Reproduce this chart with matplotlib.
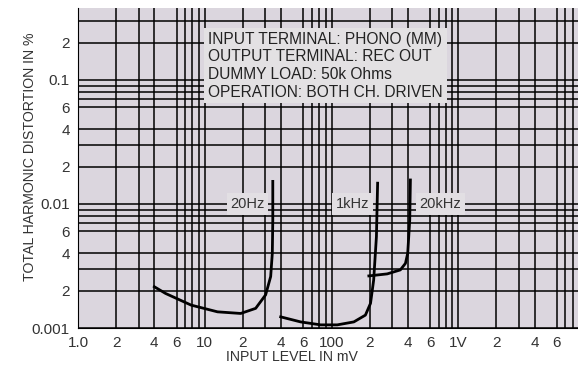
import matplotlib.pyplot as plt
from matplotlib.ticker import FixedLocator, NullFormatter

plt.rcParams['font.family'] = ['Liberation Sans', 'DejaVu Sans']

# THD curves (x in mV, y in %)
hz20_x = [4.0, 4.9, 7.8, 12.6, 19.2, 25.2, 30.2, 33.1, 34.1, 34.4, 34.4]
hz20_y = [0.00215, 0.0019, 0.00153, 0.00135, 0.00131, 0.00144, 0.00185, 0.0026, 0.004, 0.0074, 0.0152]

k1_x = [39.7, 57, 82, 111, 150, 185, 203, 215, 226, 231]
k1_y = [0.00123, 0.00112, 0.00106, 0.00106, 0.00112, 0.00127, 0.00158, 0.00244, 0.00545, 0.0147]

k20_x = [197, 275, 349, 383, 399, 414, 419]
k20_y = [0.00263, 0.00273, 0.00294, 0.00332, 0.0040, 0.00743, 0.0156]

curve_labels = ['20Hz', '1kHz', '20kHz']
label_x = [21.7, 146, 720]

x_ticks = [1, 2, 4, 6, 10, 20, 40, 60, 100, 200, 400, 600, 1000, 2000, 4000, 6000]
x_ticklabels = ['1.0', '2', '4', '6', '10', '2', '4', '6', '100', '2', '4', '6', '1V', '2', '4', '6']
x_minor = [3, 7, 8, 9, 30, 70, 80, 90, 300, 700, 800, 900, 3000, 7000, 8000]

y_ticks = [0.001, 0.002, 0.004, 0.006, 0.01, 0.02, 0.04, 0.06, 0.1, 0.2]
y_ticklabels = ['0.001', '2', '4', '6', '0.01', '2', '4', '6', '0.1', '2']
y_minor = [0.003, 0.007, 0.008, 0.009, 0.03, 0.07, 0.08, 0.09, 0.3]

info = ['INPUT TERMINAL: PHONO (MM)', 'OUTPUT TERMINAL: REC OUT',
        'DUMMY LOAD: 50k Ohms', 'OPERATION: BOTH CH. DRIVEN']

fig = plt.figure(figsize=(5.78, 3.70), dpi=100)
ax = fig.add_axes([0.135, 0.1135, 0.865, 0.865])
ax.set_facecolor('#dbd6de')

ax.set_xscale('log')
ax.set_yscale('log')
ax.set_xlim(1, 8800)
ax.set_ylim(0.001, 0.38)

ax.xaxis.set_major_locator(FixedLocator(x_ticks))
ax.set_xticklabels(x_ticklabels)
ax.xaxis.set_minor_locator(FixedLocator(x_minor))
ax.xaxis.set_minor_formatter(NullFormatter())
ax.yaxis.set_major_locator(FixedLocator(y_ticks))
ax.set_yticklabels(y_ticklabels)
ax.yaxis.set_minor_locator(FixedLocator(y_minor))
ax.yaxis.set_minor_formatter(NullFormatter())
ax.tick_params(which='both', length=0, labelsize=11, colors='#333333', pad=6)

ax.grid(True, which='both', color='black', linewidth=1.1)
for s in ax.spines.values():
    s.set_visible(False)
ax.spines['left'].set_visible(True)
ax.spines['bottom'].set_visible(True)

for xs, ys in [(hz20_x, hz20_y), (k1_x, k1_y), (k20_x, k20_y)]:
    ax.plot(xs, ys, color='black', linewidth=2.0, zorder=3)

for lab, lx in zip(curve_labels, label_x):
    ax.text(lx, 0.01, lab, ha='center', va='center', fontsize=10.5, color='#333333',
            bbox=dict(boxstyle='square,pad=0.25', facecolor='#e2dfe3', edgecolor='none'),
            zorder=4)

ax.text(10.6, 0.245, '\n'.join(info), ha='left', va='top', fontsize=11.2,
        color='#222222', linespacing=1.22,
        bbox=dict(boxstyle='square,pad=0.25', facecolor='#e3e1e3', edgecolor='none'),
        zorder=4)

fig.text(0.505, 0.035, 'INPUT LEVEL IN mV', ha='center', va='center',
         fontsize=10.2, color='#333333')
fig.text(0.052, 0.576, 'TOTAL HARMONIC DISTORTION IN %', ha='center', va='center',
         rotation=90, fontsize=10.2, color='#333333')

fig.savefig('out.png', dpi=100)
